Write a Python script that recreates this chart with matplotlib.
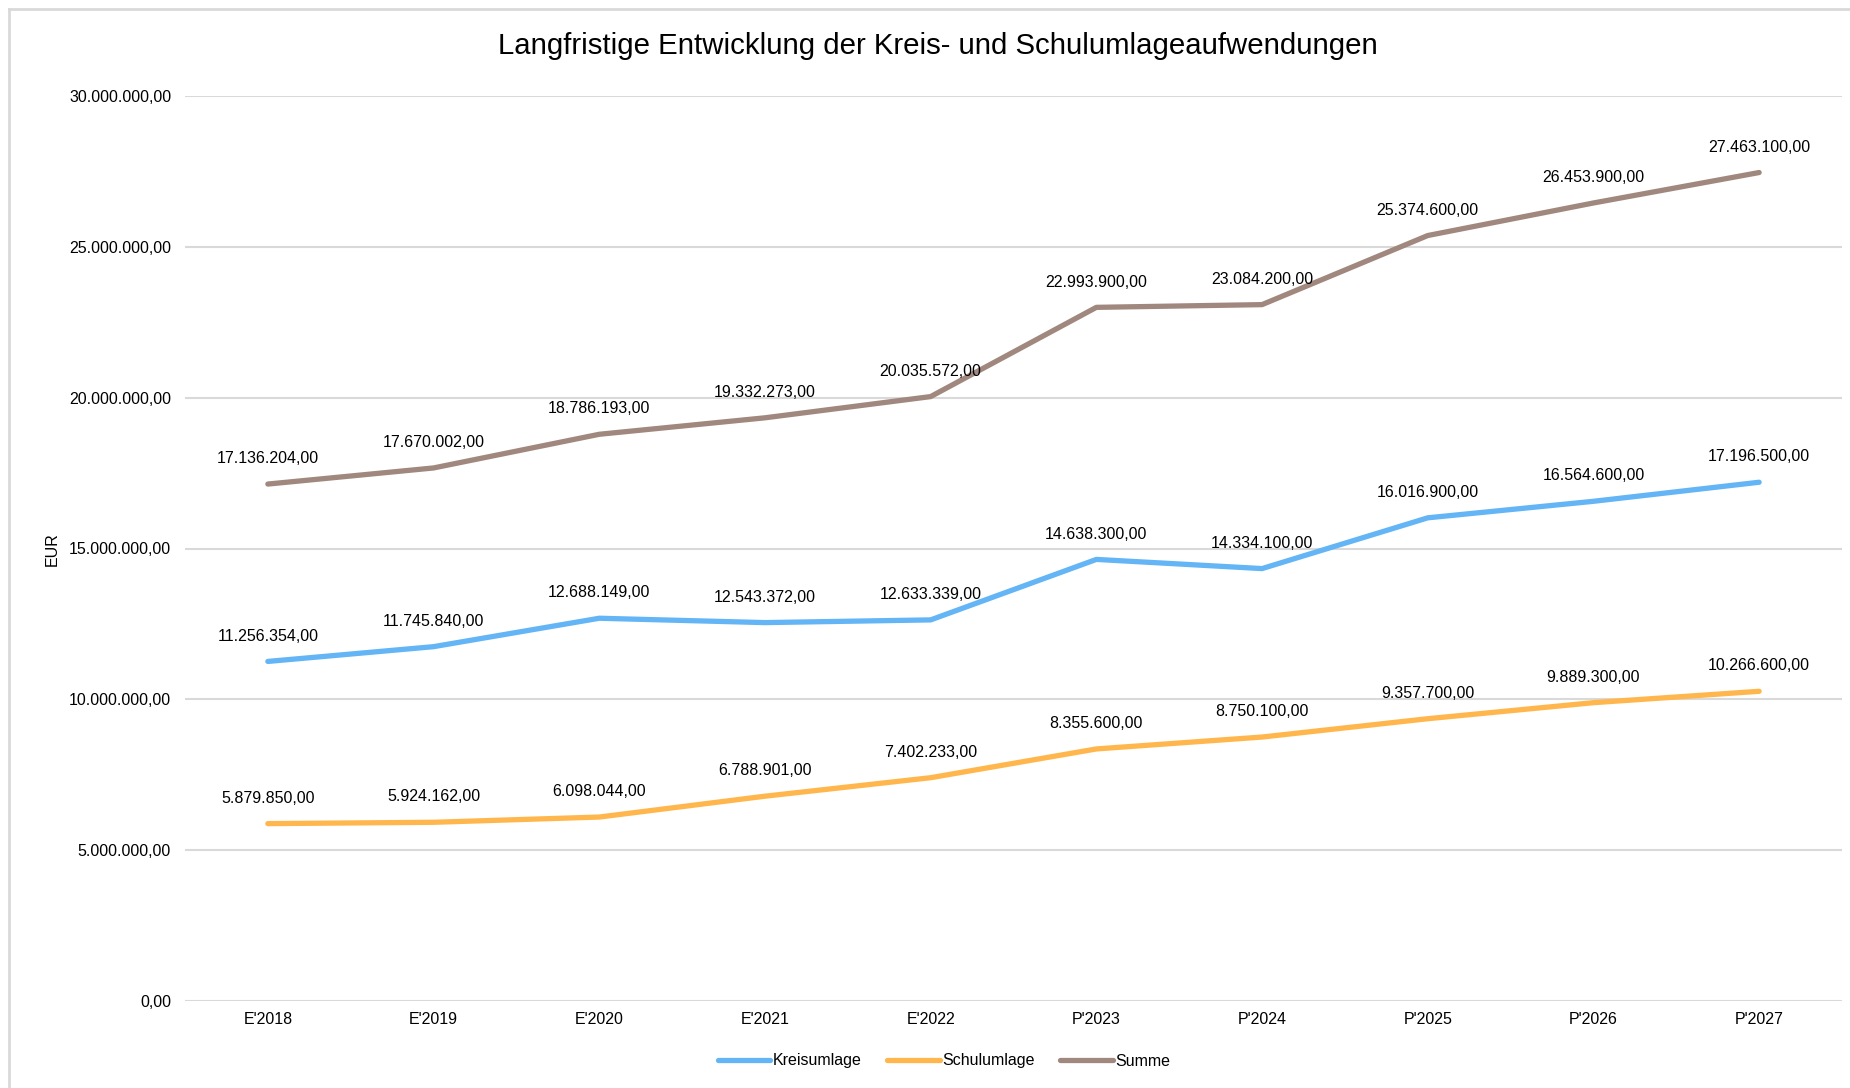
import matplotlib
matplotlib.use('Agg')
import matplotlib.pyplot as plt
from matplotlib.lines import Line2D
from matplotlib.ticker import FuncFormatter

plt.rcParams['font.family'] = ['Liberation Sans', 'DejaVu Sans']

# Daten
jahre = ["E'2018", "E'2019", "E'2020", "E'2021", "E'2022",
         "P'2023", "P'2024", "P'2025", "P'2026", "P'2027"]
kreisumlage = [11256354, 11745840, 12688149, 12543372, 12633339,
               14638300, 14334100, 16016900, 16564600, 17196500]
schulumlage = [5879850, 5924162, 6098044, 6788901, 7402233,
               8355600, 8750100, 9357700, 9889300, 10266600]
summe = [17136204, 17670002, 18786193, 19332273, 20035572,
         22993900, 23084200, 25374600, 26453900, 27463100]


def eur(v, pos=None):
    s = f"{v:,.2f}"
    return s.replace(',', 'X').replace('.', ',').replace('X', '.')


W, H = 1850, 1088
FS = 11.5
fig = plt.figure(figsize=(W / 100, H / 100), dpi=100)
ax = fig.add_axes([185 / W, 1 - 1001 / H, (1842 - 185) / W, (1001 - 96) / H])

serien = [
    ('Kreisumlage', kreisumlage, '#64B5F6'),
    ('Schulumlage', schulumlage, '#FFB74D'),
    ('Summe', summe, '#A1887F'),
]

x = list(range(len(jahre)))
handles = []
for name, werte, farbe in serien:
    ln, = ax.plot(x, werte, color=farbe, lw=3.8, solid_capstyle='round',
                  solid_joinstyle='round', label=name, zorder=3)
    handles.append(ln)
    for xi, v in zip(x, werte):
        ax.annotate(eur(v), (xi, v), xytext=(0, 15), textcoords='offset points',
                    ha='center', va='baseline', fontsize=FS, color='#000000')

ax.set_xlim(-0.5, len(jahre) - 0.5)
ax.set_ylim(0, 30000000)
ax.set_yticks(range(0, 30000001, 5000000))
ax.yaxis.set_major_formatter(FuncFormatter(eur))
ax.set_xticks(x)
ax.set_xticklabels(jahre)
ax.tick_params(axis='both', length=0, labelsize=FS, colors='#000000')
ax.tick_params(axis='y', pad=10)
ax.tick_params(axis='x', pad=8)
for sp in ax.spines.values():
    sp.set_visible(False)
ax.grid(axis='y', color='#D9D9D9', lw=1.5)
ax.set_axisbelow(True)

fig.text(52 / W, 1 - 549 / H, 'EUR', rotation=90, ha='center', va='center', fontsize=FS)
fig.text(938 / W, 1 - 46 / H, 'Langfristige Entwicklung der Kreis- und Schulumlageaufwendungen',
         ha='center', va='center', fontsize=21.2)

fig.legend(handles=handles, loc='center', bbox_to_anchor=(944 / W, 1 - 1061 / H),
           ncol=3, frameon=False, fontsize=FS, handlelength=3.3,
           handletextpad=0.15, columnspacing=1.6)

# Rahmen (nur links und oben sichtbar)
fig.add_artist(Line2D([9 / W, 9 / W], [0, 1 - 9 / H], transform=fig.transFigure,
                      color='#D9D9D9', lw=2))
fig.add_artist(Line2D([9 / W, 1], [1 - 9 / H, 1 - 9 / H], transform=fig.transFigure,
                      color='#D9D9D9', lw=2))

fig.savefig('out.png', dpi=100)
